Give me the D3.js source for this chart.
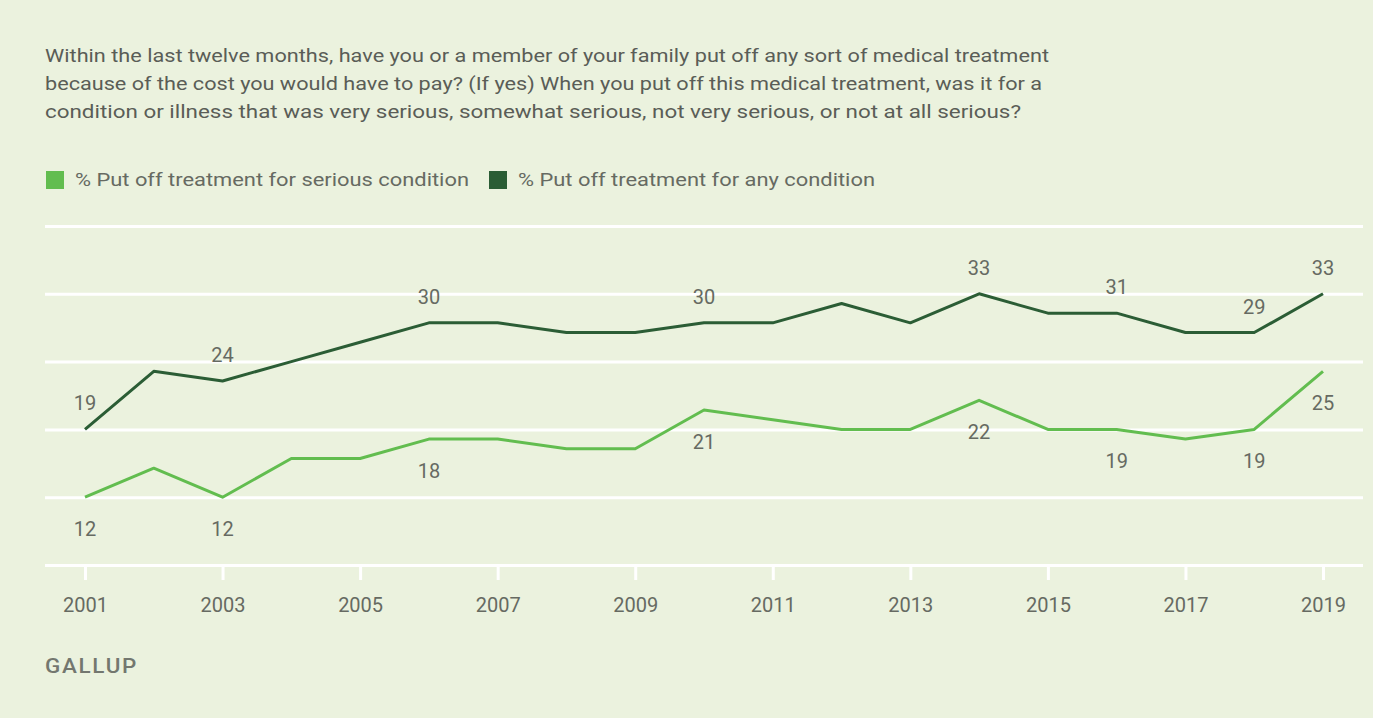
<!DOCTYPE html>
<html>
<head>
<meta charset="utf-8">
<script src="https://cdn.jsdelivr.net/npm/d3@7"></script>
<style>
  html, body { margin: 0; padding: 0; background: #ebf2de; }
  svg { display: block; }
  text { font-family: Roboto, "Noto Sans", sans-serif; }
</style>
</head>
<body>
<svg id="chart" width="1373" height="718"></svg>
<script>
"use strict";

// data
const years = [2001, 2002, 2003, 2004, 2005, 2006, 2007, 2008, 2009, 2010,
               2011, 2012, 2013, 2014, 2015, 2016, 2017, 2018, 2019];
const anyCondition =     [19, 25, 24, 26, 28, 30, 30, 29, 29, 30, 30, 32, 30, 33, 31, 31, 29, 29, 33];
const seriousCondition = [12, 15, 12, 16, 16, 18, 18, 17, 17, 21, 20, 19, 19, 22, 19, 19, 18, 19, 25];
// years that carry a value label
const labelledYears = [2001, 2003, 2006, 2010, 2014, 2016, 2018, 2019];
const gridValues = [5, 12, 19, 26, 33, 40];
const tickYears = [2001, 2003, 2005, 2007, 2009, 2011, 2013, 2015, 2017, 2019];

const titleLines = [
    "Within the last twelve months, have you or a member of your family put off any sort of medical treatment",
    "because of the cost you would have to pay? (If yes) When you put off this medical treatment, was it for a",
    "condition or illness that was very serious, somewhat serious, not very serious, or not at all serious?"
];
const titleWidths = [1004, 997, 976];
const legendNames = ["% Put off treatment for serious condition", "% Put off treatment for any condition"];

const darkGreen = "#2b5d35";
const lightGreen = "#62bd4f";
const textGray = "#666a62";

const svg = d3.select("#chart");

const x = d3.scaleLinear().domain([2001, 2019]).range([85, 1323]);
const y = d3.scaleLinear().domain([5, 40]).range([565, 226]);

// title
svg.append("g")
    .selectAll("text")
    .data(titleLines)
    .join("text")
        .attr("x", 45)
        .attr("y", (d, i) => 62 + i * 28)
        .attr("font-size", 18)
        .attr("fill", "#5a5d57")
        .attr("textLength", (d, i) => titleWidths[i])
        .attr("lengthAdjust", "spacingAndGlyphs")
        .text(d => d);

// legend
const legend = [
    {name: legendNames[0], color: lightGreen, x: 46, w: 394},
    {name: legendNames[1], color: darkGreen, x: 489, w: 357}
];
const lg = svg.append("g").selectAll("g").data(legend).join("g")
    .attr("transform", d => `translate(${d.x},171)`);
lg.append("rect").attr("width", 18).attr("height", 18).attr("fill", d => d.color);
lg.append("text")
    .attr("x", 29).attr("y", 15)
    .attr("font-size", 18)
    .attr("fill", textGray)
    .attr("textLength", d => d.w)
    .attr("lengthAdjust", "spacingAndGlyphs")
    .text(d => d.name);

// gridlines
const grid = svg.append("g")
    .attr("transform", "translate(45,0)")
    .call(d3.axisLeft(y).tickValues(gridValues).tickSize(-1318).tickFormat(""));
grid.select(".domain").remove();
grid.selectAll("line").attr("stroke", "#ffffff").attr("stroke-width", 3);

// x axis
const xAxis = svg.append("g")
    .attr("transform", `translate(0,${y(5)})`)
    .call(d3.axisBottom(x).tickValues(tickYears).tickFormat(d3.format("d")).tickSize(15).tickPadding(18));
xAxis.select(".domain").remove();
xAxis.selectAll("line").attr("stroke", "#ffffff").attr("stroke-width", 3);
xAxis.selectAll("text")
    .attr("font-size", 20)
    .attr("fill", textGray)
    .attr("font-family", "Roboto, 'Noto Sans', sans-serif");

// lines
const line = d3.line().x((d, i) => x(years[i])).y(d => y(d));
const series = [
    {values: seriousCondition, color: lightGreen, dy: 39},
    {values: anyCondition, color: darkGreen, dy: -19}
];
svg.append("g").selectAll("path").data(series).join("path")
    .attr("d", s => line(s.values))
    .attr("fill", "none")
    .attr("stroke", s => s.color)
    .attr("stroke-width", 3)
    .attr("stroke-linejoin", "round");

// value labels
series.forEach(s => {
    const pts = years.map((yr, i) => ({yr, v: s.values[i]}))
        .filter(p => labelledYears.includes(p.yr));
    svg.append("g").selectAll("text").data(pts).join("text")
        .attr("x", p => x(p.yr))
        .attr("y", p => y(p.v) + s.dy)
        .attr("text-anchor", "middle")
        .attr("font-size", 20)
        .attr("fill", textGray)
        .text(p => p.v);
});

// source
svg.append("text")
    .attr("x", 45).attr("y", 673)
    .attr("font-size", 20)
    .attr("font-weight", 500)
    .attr("letter-spacing", 1.5)
    .attr("fill", "#73776f")
    .attr("textLength", 93)
    .attr("lengthAdjust", "spacingAndGlyphs")
    .text("GALLUP");
</script>
</body>
</html>
